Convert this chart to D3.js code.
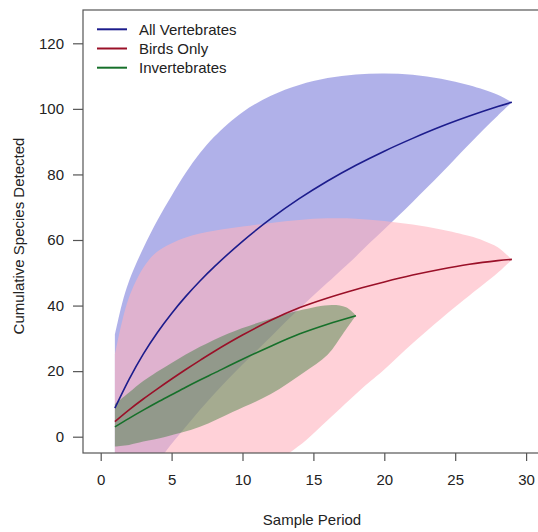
<!DOCTYPE html>
<html><head><meta charset="utf-8">
<script src="https://cdn.jsdelivr.net/npm/d3@7"></script>
<style>body{margin:0;background:#fff}svg{display:block}text{font-family:Arial,"Liberation Sans",sans-serif;fill:#222}</style>
</head><body><svg id="c" width="538" height="532"></svg>
<script>
// ---- data ----
const seriesNames = ["All Vertebrates", "Birds Only", "Invertebrates"];
const xTicks = [0, 5, 10, 15, 20, 25, 30];
const yTicks = [0, 20, 40, 60, 80, 100, 120];

// All Vertebrates
const vertX     = [1, 2, 3, 4, 5, 6, 7, 8, 10, 12, 14, 16, 18, 20, 22, 24, 26, 28, 29];
const vertMean  = [8.7, 17.5, 25.2, 31.8, 37.6, 42.8, 47.5, 51.8, 59.6, 66.5, 72.6, 78, 82.8, 87.1, 91, 94.6, 97.8, 100.7, 102];
const vertUpX   = [1, 1.5, 2, 3, 4, 5, 6, 7, 8, 10, 12, 14, 16, 18, 20, 22, 24, 26, 28, 29];
const vertUp    = [31, 40.5, 47.5, 57.5, 66, 73.5, 80.5, 86.5, 91.5, 99, 104, 107.3, 109.4, 110.5, 110.8, 110.4, 109.2, 107.2, 104.3, 102];
const vertLoX   = [1, 4, 6, 8, 10, 12, 14, 16, 18, 19, 20, 21, 22, 23, 24, 25, 26, 27, 28, 29];
const vertLo    = [-30, -8, 3, 13, 22, 30.5, 39, 47, 55, 59.2, 63.3, 67.4, 71.6, 75.9, 80.3, 84.8, 89.3, 93.7, 97.9, 102];

// Birds Only
const birdX     = [1, 2, 3, 4, 5, 6, 7, 8, 10, 12, 14, 16, 18, 20, 22, 24, 26, 28, 29];
const birdMean  = [4.6, 8.2, 11.5, 14.6, 17.6, 20.5, 23.3, 26, 31, 35.5, 39.3, 42.3, 44.9, 47.2, 49.3, 51.1, 52.6, 53.7, 54.1];
const birdUpX   = [1, 1.5, 2, 3, 4, 6, 8, 10, 12, 14, 16, 18, 20, 22, 24, 26, 27, 28, 29];
const birdUp    = [25, 35, 42.5, 51.5, 56.5, 60.8, 62.8, 64.1, 65.2, 66.1, 66.6, 66.5, 65.8, 64.7, 63.2, 61.2, 59.8, 57.8, 54];
const birdLoX   = [1, 5, 10, 13, 14.5, 16, 18.5, 20, 22, 24, 25.6, 27, 28, 29];
const birdLo    = [-45, -32, -17, -6, -1, 5, 15, 20.5, 28.5, 36, 41.7, 46.5, 50, 54];

// Invertebrates
const invX      = [1, 2, 3, 4, 5, 6, 7, 8, 10, 12, 14, 16, 18];
const invMean   = [3, 5.6, 8.1, 10.5, 12.8, 15.1, 17.3, 19.4, 23.6, 27.6, 31.3, 34.3, 36.9];
const invUpX    = [1, 2, 3, 5, 7, 9, 11.7, 14, 16.3, 17.3, 18];
const invUp     = [10, 13.5, 17, 22.5, 27.4, 31.5, 35.6, 38.5, 40.2, 39.5, 37];
const invLoX    = [1, 2, 3, 4.6, 7, 9.3, 12, 14.3, 16, 17.1, 18];
const invLo     = [-3, -2.5, -1.5, 0, 3, 7.5, 13, 19.5, 25, 31.5, 37];

// ---- drawing ----
const svg = d3.select("#c");
const L = 83, R = 541, T = 10, B = 453;
const x = d3.scaleLinear().domain([0, 30]).range([100.7, 526.1]);
const y = d3.scaleLinear().domain([0, 120]).range([436.7, 43.3]);

svg.append("defs").append("clipPath").attr("id", "plotclip")
  .append("rect").attr("x", L).attr("y", T).attr("width", R - L).attr("height", B - T);

const g = svg.append("g").attr("clip-path", "url(#plotclip)");
const zip = (xs, ys) => xs.map((v, i) => [v, ys[i]]);
const line = d3.line().x(d => x(d[0])).y(d => y(d[1])).curve(d3.curveCatmullRom.alpha(0.5));

function band(upX, up, loX, lo, fill) {
  const upper = zip(upX, up);
  const lower = zip(loX, lo).reverse();
  const d = line(upper) + "L" + line(lower).slice(1) + "Z";
  g.append("path").attr("d", d).attr("fill", fill).attr("stroke", "none");
}
band(vertUpX, vertUp, vertLoX, vertLo, "rgba(35,40,195,0.36)");
band(birdUpX, birdUp, birdLoX, birdLo, "rgba(255,178,190,0.6)");
band(invUpX, invUp, invLoX, invLo, "rgba(40,120,45,0.42)");

const colors = ["#1c1c8c", "#9a1028", "#16702a"];
g.append("path").attr("d", line(zip(vertX, vertMean))).attr("fill", "none").attr("stroke", colors[0]).attr("stroke-width", 1.6);
g.append("path").attr("d", line(zip(birdX, birdMean))).attr("fill", "none").attr("stroke", colors[1]).attr("stroke-width", 1.6);
g.append("path").attr("d", line(zip(invX, invMean))).attr("fill", "none").attr("stroke", colors[2]).attr("stroke-width", 1.6);

// box
svg.append("rect").attr("x", L).attr("y", T).attr("width", R - L).attr("height", B - T)
  .attr("fill", "none").attr("stroke", "#555").attr("stroke-width", 1.2);

// axes
const xAxis = svg.append("g").attr("transform", `translate(0,${B})`)
  .call(d3.axisBottom(x).tickValues(xTicks).tickSize(8).tickPadding(13).tickFormat(d3.format("d")));
const yAxis = svg.append("g").attr("transform", `translate(${L},0)`)
  .call(d3.axisLeft(y).tickValues(yTicks).tickSize(10).tickPadding(9).tickFormat(d3.format("d")));
[xAxis, yAxis].forEach(a => {
  a.select(".domain").remove();
  a.selectAll("line").attr("stroke", "#555").attr("stroke-width", 1.2);
  a.selectAll("text").attr("font-size", 15).attr("fill", "#333")
    .style("font-family", "Arial, 'Liberation Sans', sans-serif");
});

svg.append("text").attr("x", 312).attr("y", 525).attr("text-anchor", "middle")
  .attr("font-size", 15).text("Sample Period");
svg.append("text").attr("transform", "translate(24,236) rotate(-90)").attr("text-anchor", "middle")
  .attr("font-size", 15).text("Cumulative Species Detected");

// legend
const leg = svg.append("g");
seriesNames.forEach((n, i) => {
  const yy = 29.3 + i * 19.2;
  leg.append("line").attr("x1", 97).attr("x2", 127).attr("y1", yy).attr("y2", yy)
    .attr("stroke", colors[i]).attr("stroke-width", 2);
  leg.append("text").attr("x", 139).attr("y", yy + 5.3).attr("font-size", 15).attr("fill", "#111").text(n);
});
</script></body></html>
